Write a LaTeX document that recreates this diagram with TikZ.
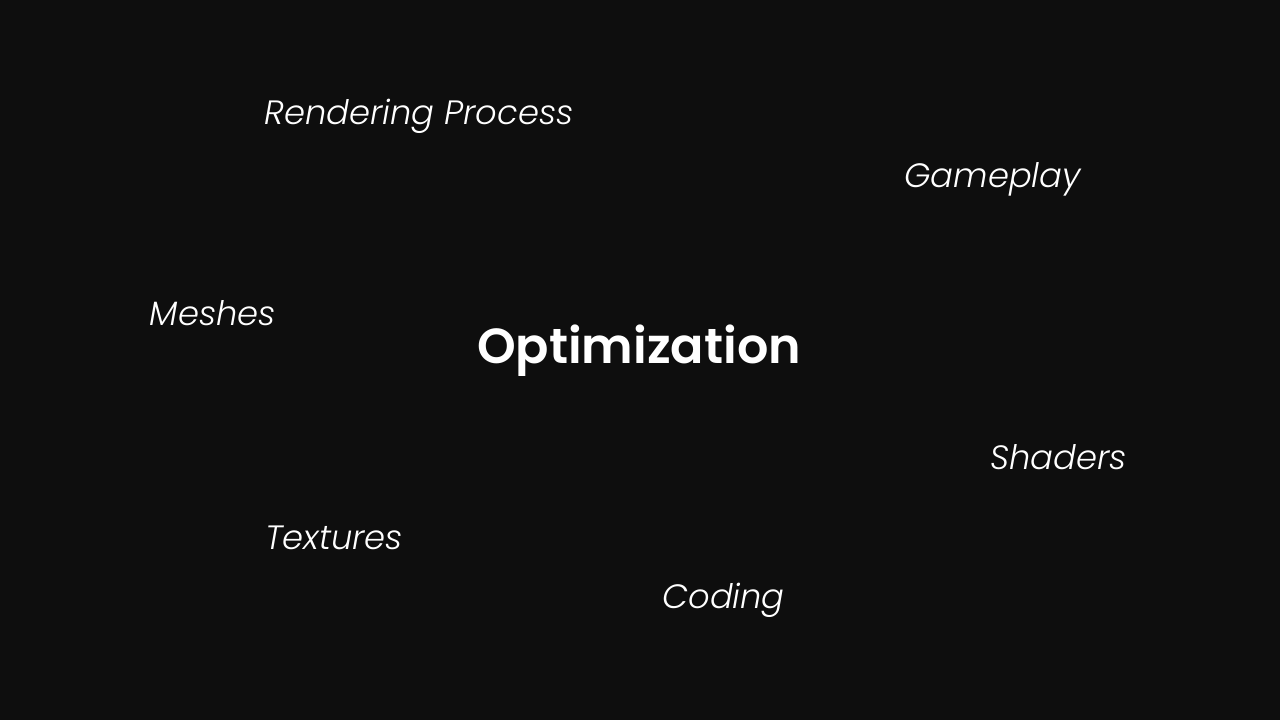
\documentclass[tikz,border=0pt]{standalone}
\usepackage{fontspec}
\setmainfont{Poppins}
\newfontfamily\lblfont{Poppins}[UprightFont=* Light Italic]
\newfontfamily\titlefont{Poppins}[UprightFont=* SemiBold]
\definecolor{bg}{HTML}{0E0E0E}
\begin{document}
\begin{tikzpicture}[x=0.01cm,y=-0.01cm,
  lbl/.style={anchor=base,text=white,inner sep=0pt,font=\lblfont\fontsize{9.6}{11}\selectfont},
  ttl/.style={anchor=base,text=white,inner sep=0pt,font=\titlefont\fontsize{14}{16}\selectfont}]
\fill[bg] (0,0) rectangle (1280,720);
\useasboundingbox (0,0) rectangle (1280,720);
\node[ttl] (opt) at (639,363) {Optimization};
\node[lbl] (render) at (419,124) {Rendering Process};
\node[lbl] (game) at (992.5,187) {Gameplay};
\node[lbl] (mesh) at (213,325) {Meshes};
\node[lbl] (shade) at (1058.5,469) {Shaders};
\node[lbl] (tex) at (334,549) {Textures};
\node[lbl] (code) at (723.5,608) {Coding};
\end{tikzpicture}
\end{document}
